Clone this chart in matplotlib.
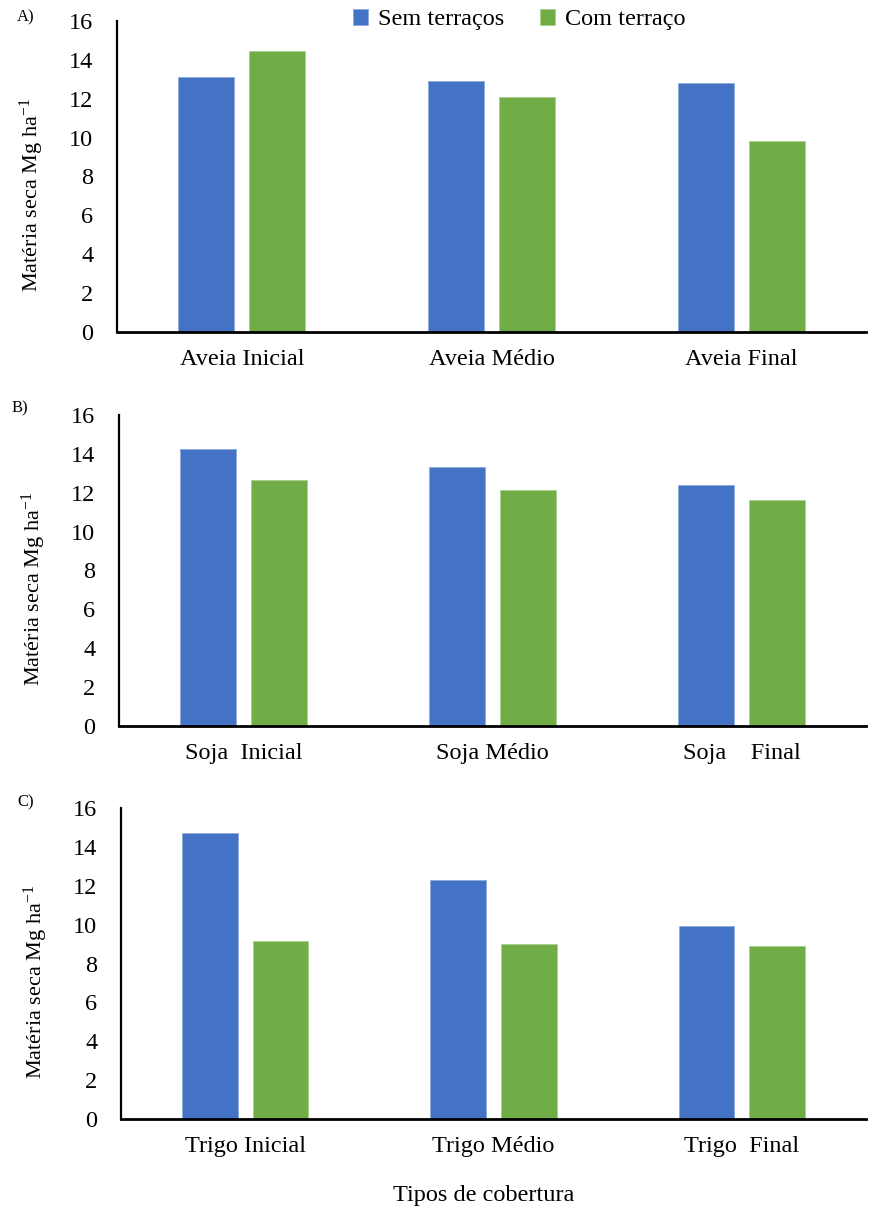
import numpy as np
import matplotlib
matplotlib.use('Agg')
import matplotlib.pyplot as plt

FONTE = 'Liberation Serif'
plt.rcParams['font.family'] = [FONTE, 'DejaVu Serif']
plt.rcParams['mathtext.fontset'] = 'custom'
plt.rcParams['mathtext.rm'] = FONTE
plt.rcParams['mathtext.it'] = FONTE + ':italic'

# Matéria seca (Mg ha-1) por tipo de cobertura
series = ['Sem terraços', 'Com terraço']
cores = ['#4472C4', '#70AD47']

cat_a = ['Aveia Inicial', 'Aveia Médio', 'Aveia Final']
sem_a = [13.1, 12.9, 12.8]
com_a = [14.45, 12.1, 9.85]

cat_b = ['Soja  Inicial', 'Soja Médio', 'Soja    Final']
sem_b = [14.25, 13.3, 12.4]
com_b = [12.65, 12.15, 11.65]

cat_c = ['Trigo Inicial', 'Trigo Médio', 'Trigo  Final']
sem_c = [14.7, 12.3, 9.95]
com_c = [9.15, 9.0, 8.9]

W, H = 869, 1209
TAM = 17.5
fig = plt.figure(figsize=(W / 100, H / 100), dpi=100)


def painel(rect_px, cats, sem, com, letra, letra_xy, legenda=False):
    left, top, bottom = rect_px
    ax = fig.add_axes([left / W, (H - bottom) / H, (866 - left) / W, (bottom - top) / H])
    x = np.arange(len(cats))
    larg = 0.225
    ax.bar(x - 0.1425, sem, larg, color=cores[0], edgecolor='#8EA9DB', linewidth=0.6, label=series[0])
    ax.bar(x + 0.1425, com, larg, color=cores[1], edgecolor='#A9D08E', linewidth=0.6, label=series[1])
    ax.set_xlim(-0.5, 2.5)
    ax.set_ylim(0, 16)
    yt = np.arange(0, 17, 2)
    ax.set_yticks(yt)
    ax.set_yticklabels([str(v) for v in yt], family=FONTE, fontsize=TAM)
    ax.set_xticks(x)
    ax.set_xticklabels(cats, family=FONTE, fontsize=TAM)
    ax.tick_params(axis='y', length=0, pad=17)
    ax.tick_params(axis='x', length=0, pad=12)
    for s in ['top', 'right']:
        ax.spines[s].set_visible(False)
    ax.spines['left'].set_linewidth(1.6)
    ax.spines['bottom'].set_linewidth(2.0)
    ax.set_ylabel('Matéria seca Mg ha$^{\\mathrm{-1}}$', family=FONTE, fontsize=16, va='center')
    ax.yaxis.set_label_coords(-0.114, 0.44)
    fig.text(letra_xy[0] / W, 1 - letra_xy[1] / H, letra, family=FONTE, fontsize=12, va='center')
    if legenda:
        ax.legend(loc='center', bbox_to_anchor=(0.537, 1.004), ncol=2, frameon=False,
                  prop={'family': FONTE, 'size': TAM}, handlelength=0.6, handleheight=0.6,
                  handletextpad=0.4, columnspacing=1.5, borderaxespad=0)
    return ax


painel((117, 21, 332), cat_a, sem_a, com_a, 'A)', (17, 17), legenda=True)
painel((119, 415, 726), cat_b, sem_b, com_b, 'B)', (12, 408))
painel((121, 808, 1119), cat_c, sem_c, com_c, 'C)', (17, 802))

fig.text(484 / W, 1 - 1195 / H, 'Tipos de cobertura', family=FONTE, fontsize=TAM, ha='center', va='center')

fig.savefig('out.png', dpi=100)
